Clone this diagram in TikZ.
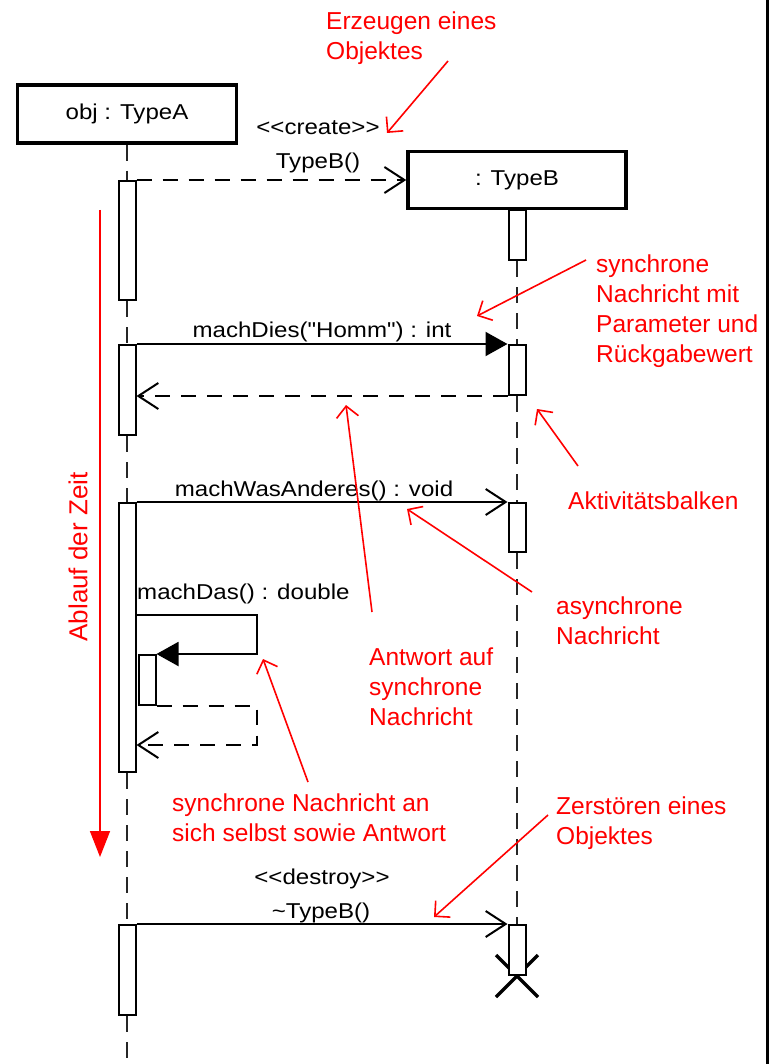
\documentclass[tikz,border=0pt]{standalone}
\usepackage{fontspec}
\setmainfont{Liberation Sans}
% message labels: straight quotes and << >> must stay as typed
\newfontfamily\msgfont{Liberation Sans}[Ligatures=TeXOff, FakeStretch=1.12]
\usetikzlibrary{arrows.meta}
\definecolor{annot}{RGB}{255,0,0}

\begin{document}
\begin{tikzpicture}[x=1pt, y=-1pt,
  objbox/.style={draw, line width=3.5pt, fill=white, inner sep=0pt,
    font=\msgfont\fontsize{21.5}{26}\selectfont},
  actbar/.style={draw, line width=2pt, fill=white, inner sep=0pt, minimum width=17pt},
  lifeline/.style={line width=2.2pt, draw=black!85, dash pattern=on 16pt off 10pt},
  call/.style={line width=2pt},
  reply/.style={line width=2pt, dash pattern=on 15pt off 11pt},
  openhead/.style={-{Straight Barb[length=20pt, width=26pt]}},
  fullhead/.style={-{Triangle[length=22pt, width=24pt]}},
  msg/.style={font=\msgfont\fontsize{21.5}{26}\selectfont, inner sep=0pt, anchor=base},
  note/.style={text=annot, font=\fontsize{24.5}{30}\selectfont, align=left,
    anchor=north west, inner sep=0pt},
  pointer/.style={draw=annot, line width=1.6pt, -{Straight Barb[length=11pt, width=22pt]}}
]
\useasboundingbox (0,0) rectangle (776,1064);

% frame edge on the right
\coordinate (edgeTop) at (767,0);
\coordinate (edgeBot) at (767,1064);
\draw[line width=3pt] (edgeTop) -- (edgeBot);

% objects
\node[objbox, minimum width=219pt, minimum height=58pt] (A) at (127,114) {obj : TypeA};
\node[objbox, minimum width=218pt, minimum height=57pt] (B) at (517,180) {: TypeB};

% activation bars
\node[actbar, minimum height=119pt] (A1) at (127,240.5) {};
\node[actbar, minimum height=90pt]  (A2) at (127,390) {};
\node[actbar, minimum height=269pt] (A3) at (127,637.5) {};
\node[actbar, minimum height=90pt]  (A4) at (127,970) {};
\node[actbar, minimum height=50pt]  (B1) at (517,235) {};
\node[actbar, minimum height=50pt]  (B2) at (517,370) {};
\node[actbar, minimum height=49pt]  (B3) at (517,527.5) {};

% lifelines between the bars
\coordinate (Aend) at (127,1064);
\coordinate (Bx) at (517,976);
\draw[lifeline] (A.south) -- (A1.north);
\draw[lifeline] (A1.south) -- (A2.north);
\draw[lifeline] (A2.south) -- (A3.north);
\draw[lifeline] (A3.south) -- (A4.north);
\draw[lifeline] (A4.south) -- (Aend);
\draw[lifeline] (B1.south) -- (B2.north);
\draw[lifeline] (B2.south) -- (B3.north);

% destruction mark, partly covered by the last bar
\draw[line width=3.5pt] (Bx) +(-21,-21) -- +(21,21) +(21,-21) -- +(-21,21);
\node[actbar, minimum height=50pt]  (B4) at (517,950) {};
\draw[lifeline] (B3.south) -- (B4.north);

% self call bar
\node[actbar, minimum height=50pt] (S) at (147,680) {};

% messages
\draw[reply, openhead] (A1.north east) -- (A1.north east -| B.west);
\node[msg] (lcreate) at (318,135) {<<create>>};
\node[msg] (lnew) at (318,169) {TypeB()};

\draw[call, fullhead] (A2.north east) -- (B2.north west);
\node[msg] (ldies) at (322,337) {machDies("Homm") : int};
\draw[reply, openhead] (B2.south west) -- (A2.east |- B2.south west);

\draw[call, openhead] (A3.north east) -- (B3.north west);
\node[msg] (lwas) at (314,496) {machWasAnderes() : void};

\coordinate (loopA) at (257,615);
\coordinate (loopB) at (257,745);
\node[msg, anchor=base west] (ldas) at (137,599) {machDas() : double};
\draw[call, fullhead] (A3.east |- loopA) -- (loopA) |- (S.north east);
\draw[reply, openhead] (S.south east) -| (loopB) -- (A3.east |- loopB);

\draw[call, openhead] (A4.north east) -- (B4.north west);
\node[msg] (ldestroy) at (322,884) {<<destroy>>};
\node[msg] (ldel) at (321,918) {\textasciitilde TypeB()};

% time axis
\coordinate (t0) at (100,210);
\coordinate (t1) at (100,857);
\draw[draw=annot, line width=1.6pt, -{Triangle[length=26pt, width=20pt]}] (t0) -- (t1);
\node[text=annot, font=\fontsize{26}{30}\selectfont, rotate=90, inner sep=0pt] (ttime) at (78,557) {Ablauf der Zeit};

% annotations
\node[note] (n1) at (326,12) {Erzeugen eines\\Objektes};
\coordinate (p1) at (448,61);
\coordinate (q1) at (387,133);
\draw[pointer] (p1) -- (q1);

\node[note] (n2) at (596,255) {synchrone\\Nachricht mit\\Parameter und\\Rückgabewert};
\coordinate (p2) at (586,260);
\coordinate (q2) at (477,316);
\draw[pointer] (p2) -- (q2);

\node[note] (n3) at (568,492) {Aktivitätsbalken};
\coordinate (p3) at (578,466);
\coordinate (q3) at (537,409);
\draw[pointer] (p3) -- (q3);

\node[note] (n4) at (556,597) {asynchrone\\Nachricht};
\coordinate (p4) at (532,592);
\coordinate (q4) at (407,509);
\draw[pointer] (p4) -- (q4);

\node[note] (n5) at (369,648) {Antwort auf\\synchrone\\Nachricht};
\coordinate (p5) at (372,612);
\coordinate (q5) at (346,405);
\draw[pointer] (p5) -- (q5);

\node[note] (n6) at (172,794) {synchrone Nachricht an\\sich selbst sowie Antwort};
\coordinate (p6) at (308,782);
\coordinate (q6) at (263,659);
\draw[pointer] (p6) -- (q6);

\node[note] (n7) at (556,797) {Zerstören eines\\Objektes};
\coordinate (p7) at (548,815);
\coordinate (q7) at (434,917);
\draw[pointer] (p7) -- (q7);
\end{tikzpicture}
\end{document}
